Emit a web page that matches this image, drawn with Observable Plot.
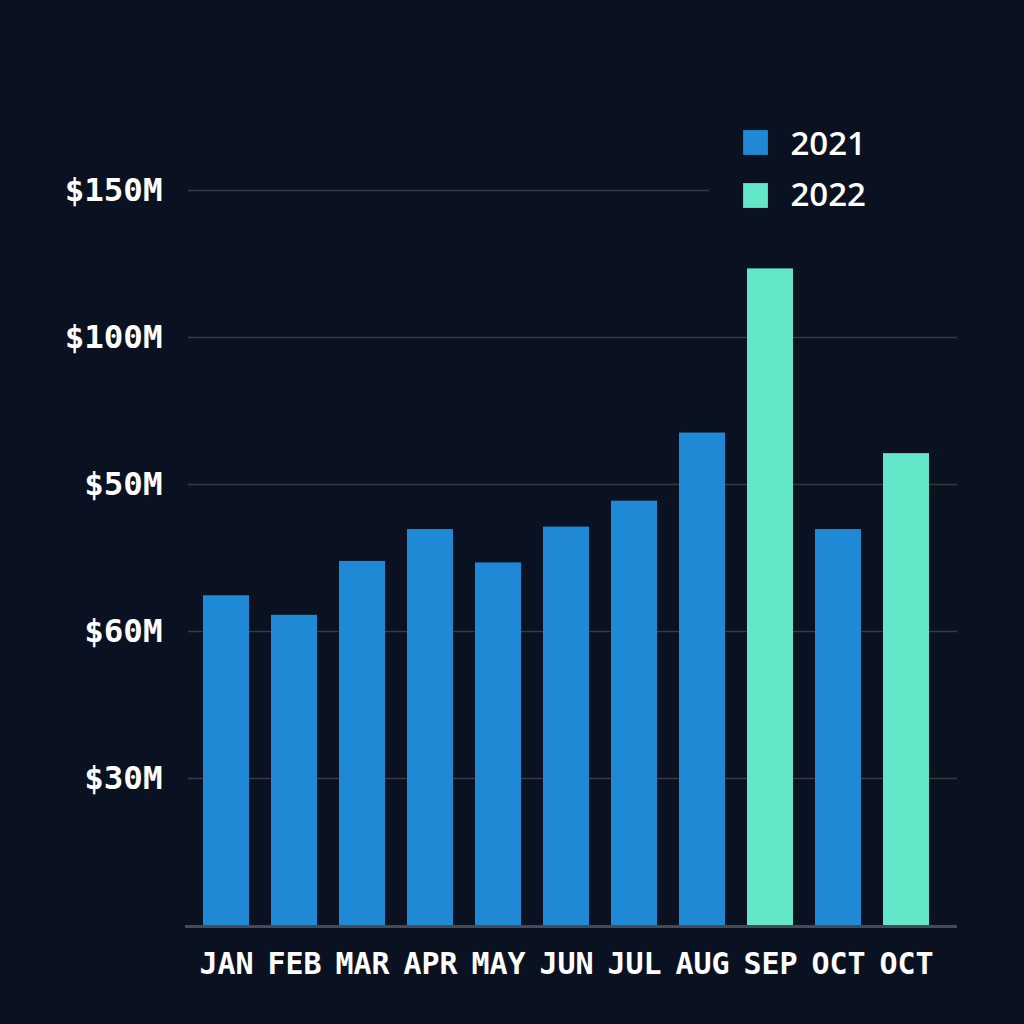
<!DOCTYPE html>
<html>
<head>
<meta charset="utf-8">
<script src="https://cdn.jsdelivr.net/npm/d3@7"></script>
<script src="https://cdn.jsdelivr.net/npm/@observablehq/plot@0.6"></script>
<style>
  html, body { margin: 0; padding: 0; background: #0a1222; }
  #chart { width: 1024px; height: 1024px; }
</style>
</head>
<body>
<div id="chart"></div>
<script>
const months = ["JAN","FEB","MAR","APR","MAY","JUN","JUL","AUG","SEP","OCT","OCT"];
const years = ["2021","2021","2021","2021","2021","2021","2021","2021","2022","2021","2022"];
const values = [67.3, 63.3, 74.3, 80.8, 74.0, 81.3, 86.6, 100.5, 134.0, 80.8, 96.3];
const yTickValues = [30, 60, 90, 120, 150];
const yTickLabels = ["$30M", "$60M", "$50M", "$100M", "$150M"];
const seriesNames = ["2021", "2022"];
const seriesColors = ["#1f89d5", "#64e6c9"];

const data = months.map((m, i) => ({i, month: m, year: years[i], value: values[i]}));
const FONT = "'DejaVu Sans Mono', monospace";

const legendMarks = seriesNames.flatMap((name, k) => [
  Plot.dot([name], {frameAnchor: "top-left", dx: 574, dy: -48 + k * 53, symbol: "square", r: 14, fill: seriesColors[k]}),
  Plot.text([name], {frameAnchor: "top-left", lineAnchor: "middle", dx: 609, dy: -46.5 + k * 51, text: d => d, textAnchor: "start", fill: "#ffffff", fontSize: 33, fontWeight: 600, fontFamily: "'Open Sans', sans-serif"})
]);

const chart = Plot.plot({
  width: 1024,
  height: 1024,
  marginLeft: 181,
  marginRight: 73,
  marginTop: 190,
  marginBottom: 99,
  style: {background: "#0a1222", color: "#ffffff", fontFamily: FONT, fontWeight: "bold"},
  x: {type: "band", domain: d3.range(months.length), padding: 0.32},
  y: {domain: [0, 150]},
  color: {domain: seriesNames, range: seriesColors},
  marks: [
    Plot.ruleY(yTickValues.slice(0, 4), {stroke: "#353a46", strokeWidth: 1.5, insetLeft: 7, insetRight: -6}),
    Plot.ruleY(yTickValues.slice(4), {stroke: "#353a46", strokeWidth: 1.5, insetLeft: 7, insetRight: 242}),
    Plot.barY(data, {x: "i", y: "value", fill: "year"}),
    Plot.ruleY([0], {stroke: "#464a55", strokeWidth: 3, insetLeft: 4, insetRight: -6, dy: 1}),
    Plot.axisX({label: null, tickSize: 0, tickPadding: 27, fontSize: 30, tickFormat: i => months[i]}),
    Plot.axisY({label: null, ticks: yTickValues, tickSize: 0, tickPadding: 19, fontSize: 32.5, tickFormat: v => yTickLabels[yTickValues.indexOf(v)]}),
    ...legendMarks
  ]
});
document.getElementById("chart").append(chart);
</script>
</body>
</html>
